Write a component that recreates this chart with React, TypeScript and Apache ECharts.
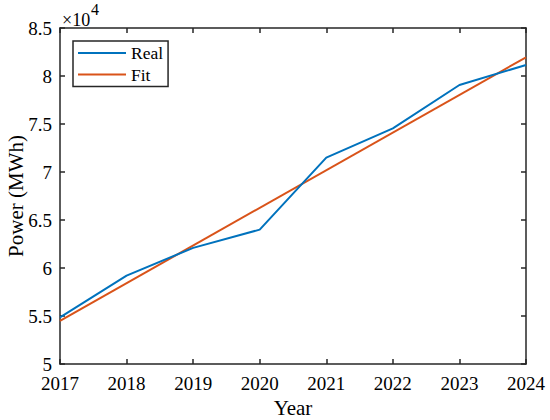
import React, { useEffect, useRef } from "react";
import * as echarts from "echarts";

const years = [2017, 2018, 2019, 2020, 2021, 2022, 2023, 2024];
const realPower = [54860, 59200, 62100, 64000, 71500, 74550, 79060, 81150];
const fitYears = [2017, 2024];
const fitPower = [54500, 81950];
const yTicks = [50000, 55000, 60000, 65000, 70000, 75000, 80000, 85000];

const FONT = "Liberation Serif";
const AXIS_COLOR = "#262626";

export default function App() {
  const ref = useRef<HTMLDivElement>(null);
  useEffect(() => {
    if (!ref.current) return;
    const chart = echarts.init(ref.current, undefined, { renderer: "svg" });
    const axisLine = { show: true, onZero: false, lineStyle: { color: AXIS_COLOR, width: 1.5 } };
    const axisTick = { show: true, inside: true, length: 5, lineStyle: { color: AXIS_COLOR, width: 1.5 } };
    chart.setOption({
      animation: false,
      backgroundColor: "#ffffff",
      textStyle: { fontFamily: FONT, color: "#000" },
      grid: {
        left: 60,
        top: 28,
        right: 24,
        bottom: 56,
        containLabel: false,
        outerBoundsMode: "none",
      },
      legend: {
        show: true,
        orient: "vertical",
        left: 73,
        top: 41,
        padding: [3, 5, 3, 5],
        itemGap: 3.5,
        itemWidth: 48,
        itemHeight: 2,
        icon: "rect",
        borderColor: AXIS_COLOR,
        borderWidth: 1.5,
        backgroundColor: "#ffffff",
        textStyle: { fontFamily: FONT, fontSize: 17.5, color: "#000" },
        data: ["Real", "Fit"],
      },
      xAxis: [
        {
          type: "value",
          position: "bottom",
          min: years[0],
          max: years[years.length - 1],
          interval: 1,
          name: "Year",
          nameLocation: "middle",
          nameGap: 33,
          nameMoveOverlap: false,
          nameTextStyle: { fontFamily: FONT, fontSize: 21, color: "#000" },
          axisLine,
          axisTick,
          splitLine: { show: false },
          axisLabel: {
            show: true,
            margin: 10,
            fontFamily: FONT,
            fontSize: 19,
            color: "#000",
            formatter: (v: number) => String(v),
          },
        },
        {
          type: "value",
          position: "top",
          min: years[0],
          max: years[years.length - 1],
          interval: 1,
          axisLine,
          axisTick,
          splitLine: { show: false },
          axisLabel: { show: false },
        },
      ],
      yAxis: [
        {
          type: "value",
          position: "left",
          min: yTicks[0],
          max: yTicks[yTicks.length - 1],
          interval: 5000,
          name: "Power (MWh)",
          nameLocation: "middle",
          nameGap: 34,
          nameMoveOverlap: false,
          nameTextStyle: { fontFamily: FONT, fontSize: 21, color: "#000" },
          axisLine,
          axisTick,
          splitLine: { show: false },
          axisLabel: {
            show: true,
            margin: 8,
            fontFamily: FONT,
            fontSize: 19,
            color: "#000",
            formatter: (v: number) => String(v / 10000),
          },
        },
        {
          type: "value",
          position: "right",
          min: yTicks[0],
          max: yTicks[yTicks.length - 1],
          interval: 5000,
          axisLine,
          axisTick,
          splitLine: { show: false },
          axisLabel: { show: false },
        },
      ],
      graphic: [
        {
          type: "text",
          x: 62,
          y: 20,
          style: {
            text: "×10",
            fontSize: 18,
            fontFamily: FONT,
            fill: "#000",
            verticalAlign: "middle",
          },
        },
        {
          type: "text",
          x: 91,
          y: 9,
          style: {
            text: "4",
            fontSize: 16,
            fontFamily: FONT,
            fill: "#000",
            verticalAlign: "middle",
          },
        },
      ],
      series: [
        {
          name: "Real",
          type: "line",
          xAxisIndex: 0,
          yAxisIndex: 0,
          data: years.map((y, i) => [y, realPower[i]]),
          showSymbol: false,
          symbol: "none",
          lineStyle: { color: "#0072BD", width: 2 },
          itemStyle: { color: "#0072BD" },
          z: 3,
        },
        {
          name: "Fit",
          type: "line",
          xAxisIndex: 0,
          yAxisIndex: 0,
          data: fitYears.map((y, i) => [y, fitPower[i]]),
          showSymbol: false,
          symbol: "none",
          lineStyle: { color: "#D95319", width: 2 },
          itemStyle: { color: "#D95319" },
          z: 2,
        },
      ],
    });
    return () => chart.dispose();
  }, []);
  return <div ref={ref} style={{ width: 550, height: 420, position: "absolute", left: 0, top: 0 }} />;
}
